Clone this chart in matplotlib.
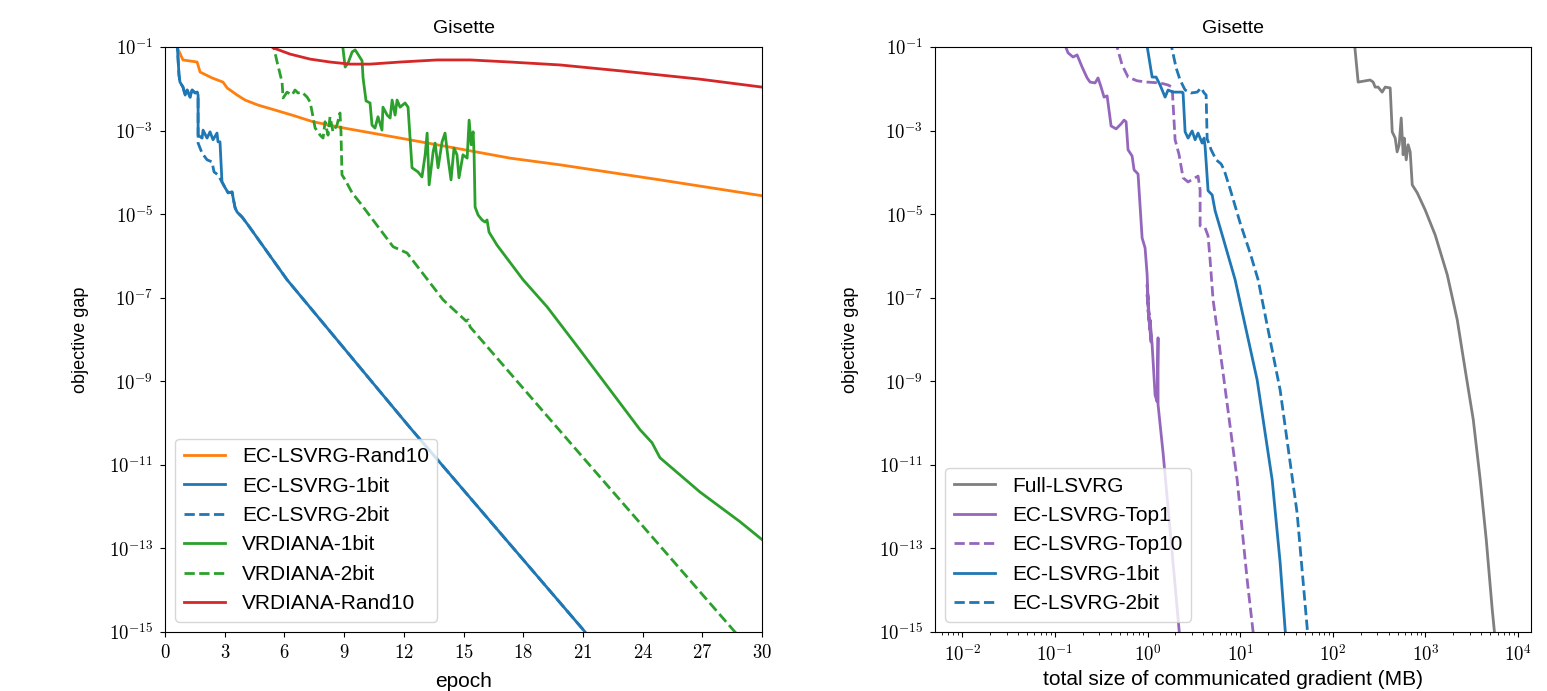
import numpy as np
import matplotlib
matplotlib.use("Agg")
import matplotlib.pyplot as plt
from matplotlib.ticker import FixedLocator, NullLocator, FuncFormatter, LogLocator

plt.rcParams['font.family'] = ['Liberation Sans', 'DejaVu Sans']
plt.rcParams['mathtext.fontset'] = 'cm'

# ---- left panel: objective gap vs epoch (y stored as log10) ----
rand10_ep = [0.60, 0.90, 1.61, 1.76, 2.36, 2.91, 3.12, 3.62, 4.02, 4.67, 5.53, 6.38,
             7.44, 8.99, 11.81, 14.82, 17.34, 19.85, 24.87, 30.0]
rand10_lg = [-1.00, -1.31, -1.36, -1.60, -1.74, -1.84, -1.98, -2.15, -2.27, -2.39, -2.51, -2.63,
             -2.79, -2.94, -3.18, -3.44, -3.66, -3.82, -4.18, -4.56]

ec1_ep = [0.60, 0.70, 0.75, 0.90, 1.01, 1.11, 1.26, 1.36, 1.51, 1.61, 1.66, 1.66, 1.86, 1.91,
          2.11, 2.26, 2.41, 2.61, 2.66, 2.76, 2.86, 3.02, 3.17, 3.37, 3.42, 3.52, 3.62, 3.87,
          4.17, 6.13, 12.31, 21.11, 21.36]
ec1_lg = [-0.85, -1.67, -1.84, -1.96, -2.15, -2.03, -2.20, -2.03, -2.10, -2.08, -2.15, -3.11,
          -3.18, -2.99, -3.18, -3.03, -3.22, -3.06, -3.27, -3.27, -4.23, -4.37, -4.49, -4.47,
          -4.61, -4.85, -4.95, -5.07, -5.26, -6.57, -10.11, -15.0, -15.14]

ec2_ep = [0.60, 0.70, 0.75, 0.90, 1.01, 1.11, 1.26, 1.36, 1.51, 1.61, 1.66, 1.66, 1.86, 2.11,
          2.36, 2.46, 2.66, 2.86, 3.02, 3.17, 3.37, 3.42, 3.52, 3.62, 3.87, 4.17, 6.13, 12.31,
          21.11, 21.36]
ec2_lg = [-0.85, -1.67, -1.84, -1.96, -2.15, -2.03, -2.20, -2.03, -2.10, -2.08, -2.15, -3.30,
          -3.54, -3.70, -3.75, -3.99, -4.06, -4.23, -4.37, -4.49, -4.47, -4.61, -4.85, -4.95,
          -5.07, -5.26, -6.57, -10.11, -15.0, -15.14]

vr1_ep = [8.89, 9.05, 9.20, 9.40, 9.55, 9.65, 9.90, 9.95, 10.10, 10.30, 10.40, 10.55, 10.70,
          10.90, 10.95, 11.16, 11.31, 11.41, 11.56, 11.66, 11.81, 12.06, 12.21, 12.41, 12.56,
          12.71, 12.91, 13.07, 13.17, 13.27, 13.47, 13.57, 13.72, 13.92, 14.07, 14.22, 14.37,
          14.52, 14.67, 14.77, 14.97, 15.18, 15.28, 15.38, 15.48, 15.53, 15.58, 15.73, 15.93,
          16.08, 16.18, 16.28, 16.68, 17.99, 19.20, 20.85, 23.87, 24.47, 24.87, 26.88, 28.89, 30.0]
vr1_lg = [-0.83, -1.48, -1.38, -1.12, -1.07, -1.14, -1.33, -1.74, -2.29, -2.34, -2.87, -2.94,
          -2.67, -2.99, -2.44, -2.63, -2.70, -2.27, -2.63, -2.27, -2.44, -2.34, -2.44, -3.89,
          -3.94, -3.99, -4.11, -3.58, -3.06, -4.30, -3.51, -3.30, -3.89, -3.27, -3.06, -3.66,
          -4.18, -3.42, -3.58, -4.13, -3.58, -3.66, -2.75, -3.34, -3.03, -3.58, -4.83, -5.02,
          -5.14, -5.19, -5.14, -5.43, -5.74, -6.57, -7.22, -8.25, -10.16, -10.47, -10.83,
          -11.65, -12.36, -12.79]

vr2_ep = [5.38, 5.63, 5.88, 5.93, 6.13, 6.38, 6.53, 6.68, 6.88, 7.14, 7.29, 7.39, 7.54, 7.69,
          7.79, 7.94, 8.04, 8.19, 8.29, 8.44, 8.64, 8.79, 8.84, 8.89, 9.05, 9.40, 9.80, 11.46,
          12.16, 13.97, 15.13, 15.23, 15.33, 20.85, 28.64, 29.0]
vr2_lg = [-0.83, -1.36, -1.84, -2.22, -2.08, -2.15, -2.03, -2.10, -2.08, -2.20, -2.32, -2.56,
          -2.94, -3.03, -3.11, -3.18, -2.79, -3.11, -2.67, -3.03, -2.87, -2.58, -3.03, -4.06,
          -4.18, -4.49, -4.73, -5.78, -5.93, -7.05, -7.56, -7.53, -7.70, -10.74, -15.0, -15.19]

vrr_ep = [5.18, 5.43, 6.28, 7.29, 8.29, 9.30, 10.30, 11.81, 13.67, 15.33, 17.34, 19.85, 22.86,
          26.88, 30.0]
vrr_lg = [-0.93, -1.02, -1.17, -1.29, -1.36, -1.41, -1.41, -1.36, -1.31, -1.31, -1.36, -1.43,
          -1.57, -1.77, -1.96]

# ---- right panel: objective gap vs communicated MB (x and y stored as log10) ----
full_lx = [2.230, 2.273, 2.403, 2.435, 2.457, 2.489, 2.532, 2.565, 2.619, 2.641, 2.673, 2.694,
           2.716, 2.738, 2.759, 2.770, 2.792, 2.813, 2.835, 2.857, 2.911, 2.997, 3.105, 3.235,
           3.343, 3.429, 3.516, 3.591, 3.656, 3.721, 3.753]
full_lg = [-0.83, -1.84, -1.79, -1.84, -1.96, -1.96, -2.08, -1.96, -1.98, -3.03, -3.18, -3.51,
           -3.34, -2.70, -3.58, -3.18, -3.70, -3.34, -3.51, -4.30, -4.49, -4.90, -5.50, -6.45,
           -7.53, -8.73, -9.92, -11.36, -12.79, -14.47, -15.19]

top1_lx = [-0.913, -0.859, -0.805, -0.761, -0.707, -0.653, -0.621, -0.567, -0.535, -0.502,
           -0.470, -0.437, -0.394, -0.340, -0.286, -0.254, -0.232, -0.211, -0.167, -0.146,
           -0.103, -0.059, -0.027, -0.005, 0.005, -0.005, 0.016, -0.005, 0.027, 0.005, 0.038,
           0.027, 0.049, 0.081, 0.103, 0.113, 0.113, 0.167, 0.243, 0.340, 0.351]
top1_lg = [-0.83, -1.14, -1.24, -1.19, -1.48, -1.74, -1.84, -1.86, -1.74, -1.96, -2.20, -2.17,
           -2.89, -2.96, -2.84, -2.75, -2.79, -3.46, -3.61, -3.94, -4.04, -5.57, -5.81, -6.45,
           -7.05, -6.69, -7.41, -6.93, -7.77, -7.29, -8.06, -7.53, -8.13, -9.33, -9.49, -7.96,
           -9.56, -10.71, -12.56, -14.95, -15.19]

top10_lx = [-0.351, -0.275, -0.211, -0.113, -0.005, 0.135, 0.221, 0.265, 0.297, 0.340, 0.383,
            0.437, 0.513, 0.545, 0.567, 0.567, 0.621, 0.653, 0.675, 0.707, 0.815, 0.967, 1.075,
            1.139, 1.150]
top10_lg = [-0.83, -1.43, -1.72, -1.81, -1.84, -1.86, -1.91, -1.96, -3.22, -3.58, -4.13, -4.23,
            -4.13, -4.09, -4.42, -5.28, -5.33, -5.52, -6.10, -7.05, -8.80, -11.36, -13.75,
            -15.0, -15.19]

bit1_lx = [-0.016, 0.049, 0.092, 0.135, 0.189, 0.221, 0.275, 0.373, 0.383, 0.405, 0.437, 0.481,
           0.513, 0.545, 0.589, 0.610, 0.621, 0.653, 0.697, 0.729, 0.815, 0.945, 1.183, 1.345,
           1.431, 1.485, 1.496]
bit1_lg = [-0.83, -1.72, -1.72, -1.91, -2.20, -2.03, -2.08, -2.08, -2.10, -3.03, -3.18, -3.01,
           -3.22, -3.06, -3.30, -3.18, -3.39, -4.44, -4.54, -4.92, -5.57, -6.57, -8.97, -11.36,
           -13.34, -14.95, -15.19]

bit2_lx = [0.243, 0.308, 0.351, 0.405, 0.470, 0.535, 0.578, 0.610, 0.632, 0.643, 0.686, 0.740,
           0.794, 0.826, 0.891, 0.999, 1.107, 1.193, 1.431, 1.614, 1.722, 1.733]
bit2_lg = [-0.83, -1.50, -1.79, -2.03, -2.10, -2.08, -1.98, -2.10, -2.15, -3.20, -3.46, -3.70,
           -3.80, -3.94, -4.40, -5.21, -5.93, -6.57, -9.21, -12.15, -14.88, -15.19]

left_series = [
    ("EC-LSVRG-Rand10", rand10_ep, rand10_lg, "tab:orange", "-"),
    ("EC-LSVRG-1bit", ec1_ep, ec1_lg, "tab:blue", "-"),
    ("EC-LSVRG-2bit", ec2_ep, ec2_lg, "tab:blue", "--"),
    ("VRDIANA-1bit", vr1_ep, vr1_lg, "tab:green", "-"),
    ("VRDIANA-2bit", vr2_ep, vr2_lg, "tab:green", "--"),
    ("VRDIANA-Rand10", vrr_ep, vrr_lg, "tab:red", "-"),
]
right_series = [
    ("Full-LSVRG", full_lx, full_lg, "tab:gray", "-"),
    ("EC-LSVRG-Top1", top1_lx, top1_lg, "tab:purple", "-"),
    ("EC-LSVRG-Top10", top10_lx, top10_lg, "tab:purple", "--"),
    ("EC-LSVRG-1bit", bit1_lx, bit1_lg, "tab:blue", "-"),
    ("EC-LSVRG-2bit", bit2_lx, bit2_lg, "tab:blue", "--"),
]

ytick_exp = [-1, -3, -5, -7, -9, -11, -13, -15]
xticks_left = [0, 3, 6, 9, 12, 15, 18, 21, 24, 27, 30]


def mathfmt(v, pos):
    return r"$%g$" % v


def logfmt(v, pos):
    return r"$10^{%d}$" % int(round(np.log10(v)))


def style_y(ax):
    ax.set_yscale("log")
    ax.set_ylim(1e-15, 1e-1)
    ax.yaxis.set_major_locator(FixedLocator([10.0 ** e for e in ytick_exp]))
    ax.yaxis.set_minor_locator(NullLocator())
    ax.yaxis.set_major_formatter(FuncFormatter(logfmt))
    ax.set_ylabel("objective gap", fontsize=13, labelpad=14)
    ax.set_title("Gisette", fontsize=14, pad=10)
    ax.tick_params(labelsize=13.5, pad=5)


fig = plt.figure(figsize=(15.47, 6.91), dpi=100)
ax1 = fig.add_axes([0.1067, 0.0854, 0.3859, 0.8466])
ax2 = fig.add_axes([0.6044, 0.0854, 0.3853, 0.8466])

for name, xs, lg, c, ls in left_series:
    ax1.plot(xs, 10.0 ** np.array(lg), color=c, ls=ls, lw=2, label=name)
style_y(ax1)
ax1.set_xlim(0, 30)
ax1.xaxis.set_major_locator(FixedLocator(xticks_left))
ax1.xaxis.set_major_formatter(FuncFormatter(mathfmt))
ax1.set_xlabel("epoch", fontsize=15, labelpad=7)
ax1.legend(loc="lower left", fontsize=15)

for name, lx, lg, c, ls in right_series:
    ax2.plot(10.0 ** np.array(lx), 10.0 ** np.array(lg), color=c, ls=ls, lw=2, label=name)
style_y(ax2)
ax2.set_xscale("log")
ax2.set_xlim(5.07e-3, 1.38e4)
ax2.xaxis.set_major_locator(LogLocator(base=10, numticks=20))
ax2.xaxis.set_minor_locator(LogLocator(base=10, subs=np.arange(2, 10), numticks=20))
ax2.xaxis.set_major_formatter(FuncFormatter(logfmt))
ax2.set_xlabel("total size of communicated gradient (MB)", fontsize=15, labelpad=4)
ax2.legend(loc="lower left", fontsize=15)

fig.savefig("out.png", dpi=100)
